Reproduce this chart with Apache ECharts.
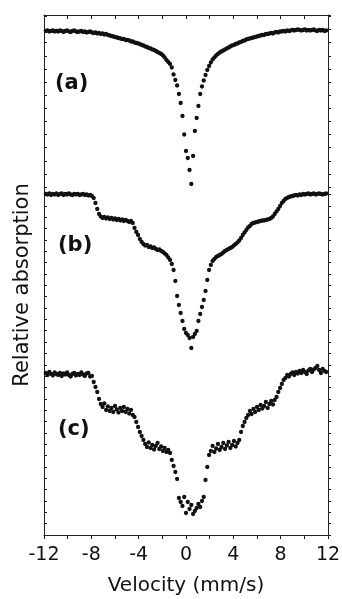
<!DOCTYPE html>
<html>
<head>
<meta charset="utf-8">
<script src="https://cdn.jsdelivr.net/npm/echarts@6/dist/echarts.min.js"></script>
<style>
html,body{margin:0;padding:0;background:#fff;}
#main{width:342px;height:599px;}
</style>
</head>
<body>
<div id="main"></div>
<script>
// velocity channels (mm/s)
var velocity = [
  -11.85,-11.7,-11.55,-11.4,-11.25,-11.1,-10.95,-10.8,-10.65,-10.5,
  -10.35,-10.2,-10.05,-9.9,-9.75,-9.6,-9.45,-9.3,-9.15,-9,
  -8.85,-8.7,-8.55,-8.4,-8.25,-8.1,-7.95,-7.8,-7.65,-7.5,
  -7.35,-7.2,-7.05,-6.9,-6.75,-6.6,-6.45,-6.3,-6.15,-6,
  -5.85,-5.7,-5.55,-5.4,-5.25,-5.1,-4.95,-4.8,-4.65,-4.5,
  -4.35,-4.2,-4.05,-3.9,-3.75,-3.6,-3.45,-3.3,-3.15,-3,
  -2.85,-2.7,-2.55,-2.4,-2.25,-2.1,-1.95,-1.8,-1.65,-1.5,
  -1.35,-1.2,-1.05,-0.9,-0.75,-0.6,-0.45,-0.3,-0.15,0,
  0.15,0.3,0.45,0.6,0.75,0.9,1.05,1.2,1.35,1.5,
  1.65,1.8,1.95,2.1,2.25,2.4,2.55,2.7,2.85,3,
  3.15,3.3,3.45,3.6,3.75,3.9,4.05,4.2,4.35,4.5,
  4.65,4.8,4.95,5.1,5.25,5.4,5.55,5.7,5.85,6,
  6.15,6.3,6.45,6.6,6.75,6.9,7.05,7.2,7.35,7.5,
  7.65,7.8,7.95,8.1,8.25,8.4,8.55,8.7,8.85,9,
  9.15,9.3,9.45,9.6,9.75,9.9,10.05,10.2,10.35,10.5,
  10.65,10.8,10.95,11.1,11.25,11.4,11.55,11.7,11.85
];

// spectrum (a) - upper panel, arbitrary units
var specA = [
  156,156.5,155.5,156,156.5,155.5,156,155.5,156.5,156,
  155,156,156.5,155.5,155,156,156.5,155.5,155,155.5,
  156,155,155.5,154.5,155,155.5,154.5,154,154.5,153.5,
  154,153,153.5,152.5,153,152,151.5,151,150.5,150,
  149.5,149,148.5,148,148,147,147,146.5,145.5,145.5,
  144.5,144,143.5,143,142,141.5,140.5,140,139,138.5,
  137.5,137,136,135,134,133,131.5,129.5,127,125,
  123,119.5,112.5,107,101.5,93,84,71,52.5,36,
  29,17,3,31,56,69,81,93,100.5,106.5,
  112,117,121,124.5,127.5,129.5,131.5,133,134.5,135.5,
  136.5,137.5,138.5,139.5,140.5,141.5,142,143,143.5,144.5,
  145,146,146.5,147.5,148,148.5,149,149.5,150,150.5,
  151,151.5,152,152,153,153,153.5,154,153.5,154.5,
  155,154.5,155.5,155.5,156,155.5,156.5,156,156.5,157,
  156.5,157,157.5,157,156.5,157,157.5,156.5,157,156.5,
  157,157.5,156.5,156,157,156.5,157,156,156.5
];

// spectrum (b) - lower panel, arbitrary units
var specB = [
  341,340.5,341.5,340,341,340.5,341.5,340,341,341.5,
  340,341,340.5,341.5,340.5,340,341,340.5,341,340,
  340.5,341,340,340.5,339.5,340,339,337,332,326,
  321,318.5,317,318,316.5,317.5,316,317,315.5,316.5,
  315,316,314.5,315.5,314,315,314,313,314,312,
  307,303,300,296,293,291,289.5,290,288,288.5,
  287,287.5,286,285,285.5,284,283,281.5,280,277.5,
  275,271,265,254,239,230,222,214,206,202,
  200,197,187,198,201,204,214,221,228,235,
  244,255,265,270,274,276,278,279,280,281,
  282.5,284,285,286,287,288,289.5,291,292.5,294.5,
  297,300,302.5,305,307.5,309,311,312,312.5,313,
  313.5,314,314.5,314.5,315,315.5,316,317,318.5,321,
  323.5,326,329,332,334,336,337,338,338.5,339,
  339.5,340,339.5,340.5,340,341,340.5,341,341.5,340.5,
  341,341.5,340.5,341,341.5,341,340.5,341,341.5
];

// spectrum (c) - lower panel, arbitrary units
var specC = [
  162,160,163,161,159.5,162.5,161,160,162,159,
  161.5,160.5,162.5,160,158.5,161,162,159.5,161,160,
  162.5,160.5,159,161.5,162,158.5,159,153,148,143,
  136,131,128,131.5,125,128.5,124,127,123,129,
  125.5,122.5,127,124,128,123,126,121.5,125,120,
  118,113,108,103,99,95,91,88,92.5,87,
  90,85.5,89,92,86,88.5,84,87,83,85,
  82,75,69,63,56,37,33,29,38,22,
  33,26,30,21,24,27,31,28,34,38,
  55,68,80,84,89,83,86.5,91,85,88,
  92,86,89.5,93,87,90,94,88.5,92,95,
  103,109,113,117,120,124,121,126,123,128,
  125,130,126.5,129,133,127,131,134,130.5,135,
  138,143,147,151,155,157,160,158.5,161,162.5,
  160,163,161.5,164,162,165,163,161,164.5,166,
  163,165.5,167,169,165,162,166,164,163
];

var velocityTicks = [-12, -8, -4, 0, 4, 8, 12];
var panelLabels = ['(a)', '(b)', '(c)'];

var ink = '#111';
var frame = '#222';
var font = '"DejaVu Sans", Arial, sans-serif';

function pairs(ys) {
    return velocity.map(function (v, i) { return [v, ys[i]]; });
}

function frameAxis(grid, pos, max, step, inside) {
    return {
        gridIndex: grid,
        type: 'value',
        position: pos,
        min: 0,
        max: max,
        interval: step,
        axisLine: { show: true, onZero: false, lineStyle: { color: frame, width: 1 } },
        axisTick: { show: true, inside: inside, length: 3, lineStyle: { color: frame, width: 1 } },
        axisLabel: { show: false },
        splitLine: { show: false }
    };
}

var myChart = echarts.init(document.getElementById('main'));
var option = {
    animation: false,
    backgroundColor: '#fff',
    grid: [
        { left: 44, top: 15, width: 284, height: 172, containLabel: false, outerBoundsMode: 'none' },
        { left: 44, top: 187, width: 284, height: 348, containLabel: false, outerBoundsMode: 'none' }
    ],
    xAxis: [
        {
            gridIndex: 0,
            type: 'value',
            position: 'top',
            min: velocityTicks[0],
            max: velocityTicks[velocityTicks.length - 1],
            interval: (velocityTicks[1] - velocityTicks[0]) / 2,
            axisLine: { onZero: false, lineStyle: { color: frame, width: 1 } },
            axisTick: { inside: true, length: 4, lineStyle: { color: frame } },
            axisLabel: { show: false },
            splitLine: { show: false }
        },
        {
            gridIndex: 1,
            type: 'value',
            position: 'bottom',
            min: velocityTicks[0],
            max: velocityTicks[velocityTicks.length - 1],
            interval: velocityTicks[1] - velocityTicks[0],
            name: 'Velocity (mm/s)',
            nameLocation: 'middle',
            nameGap: 41,
            nameTextStyle: { fontFamily: font, fontSize: 20, color: ink },
            axisLine: { onZero: false, lineStyle: { color: frame, width: 1 } },
            axisTick: { inside: false, length: 4, lineStyle: { color: frame } },
            minorTick: { show: true, splitNumber: 2, length: 4, lineStyle: { color: frame } },
            axisLabel: { fontFamily: font, fontSize: 19, color: ink, margin: 11 },
            splitLine: { show: false }
        }
    ],
    yAxis: [
        frameAxis(0, 'left', 172, 13.12, true),
        frameAxis(0, 'right', 172, 13.12, false),
        frameAxis(1, 'left', 348, 11.35, true),
        frameAxis(1, 'right', 348, 11.35, false)
    ],
    graphic: [
        {
            type: 'text', x: 23, y: 285, rotation: Math.PI / 2,
            style: { text: 'Relative absorption', font: '21px ' + font, fill: ink,
                     align: 'center', verticalAlign: 'middle', textAlign: 'center', textVerticalAlign: 'middle' }
        },
        {
            type: 'text', x: 55, y: 84,
            style: { text: panelLabels[0], font: 'bold 21px ' + font, fill: ink,
                     verticalAlign: 'middle', textVerticalAlign: 'middle' }
        },
        {
            type: 'text', x: 58, y: 246,
            style: { text: panelLabels[1], font: 'bold 21px ' + font, fill: ink,
                     verticalAlign: 'middle', textVerticalAlign: 'middle' }
        },
        {
            type: 'text', x: 58, y: 430,
            style: { text: panelLabels[2], font: 'bold 21px ' + font, fill: ink,
                     verticalAlign: 'middle', textVerticalAlign: 'middle' }
        }
    ],
    series: [
        { name: 'a', type: 'scatter', xAxisIndex: 0, yAxisIndex: 0, data: pairs(specA),
          symbolSize: 4.3, itemStyle: { color: ink, opacity: 1 }, silent: true, clip: false },
        { name: 'b', type: 'scatter', xAxisIndex: 1, yAxisIndex: 2, data: pairs(specB),
          symbolSize: 4.3, itemStyle: { color: ink, opacity: 1 }, silent: true, clip: false },
        { name: 'c', type: 'scatter', xAxisIndex: 1, yAxisIndex: 2, data: pairs(specC),
          symbolSize: 4.3, itemStyle: { color: ink, opacity: 1 }, silent: true, clip: false }
    ]
};
myChart.setOption(option);
</script>
</body>
</html>
